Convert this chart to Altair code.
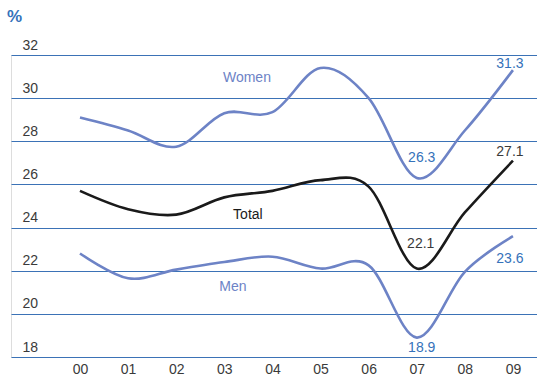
import altair as alt
import pandas as pd

# Share of the population, by year (2000-2009)
years = ["00", "01", "02", "03", "04", "05", "06", "07", "08", "09"]
women = [29.1, 28.5, 27.75, 29.3, 29.35, 31.4, 30.0, 26.3, 28.5, 31.3]
total = [25.7, 24.85, 24.6, 25.4, 25.7, 26.2, 25.9, 22.1, 24.7, 27.1]
men = [22.8, 21.65, 22.05, 22.4, 22.65, 22.1, 22.25, 18.9, 21.95, 23.6]

y_ticks = [18, 20, 22, 24, 26, 28, 30, 32]

BLUE_LINE = "#6d83c6"
BLUE_TEXT = "#3572ba"
GRID = "#3b72b6"
DARK = "#3a3a3a"
FONT = "Liberation Sans"

rows = []
for name, vals in [("Women", women), ("Total", total), ("Men", men)]:
    for i, (yr, v) in enumerate(zip(years, vals)):
        rows.append({"series": name, "idx": i, "year": yr, "value": v})
df = pd.DataFrame(rows)

x_scale = alt.Scale(domain=[-1.434, 9.5], nice=False, zero=False)
y_scale = alt.Scale(domain=[18, 32], nice=False, zero=False)

x_axis = alt.Axis(
    values=list(range(len(years))),
    labelExpr="datum.value < 10 ? '0' + datum.value : '' + datum.value",
    grid=False, domain=False, ticks=False, labelPadding=5,
    labelFont=FONT, labelFontSize=14, labelColor=DARK, title=None,
)
y_axis = alt.Axis(
    values=y_ticks, grid=True, gridColor=GRID, gridWidth=1.2,
    domain=False, ticks=False, labelAlign="left", labelPadding=-11,
    labelBaseline="alphabetic", labelOffset=-6,
    labelFont=FONT, labelFontSize=14, labelColor=DARK, title=None,
)

base = alt.Chart(df)

lines = base.mark_line(interpolate="cardinal", strokeWidth=2.6).encode(
    x=alt.X("idx:Q", scale=x_scale, axis=x_axis),
    y=alt.Y("value:Q", scale=y_scale, axis=y_axis),
    color=alt.Color(
        "series:N",
        scale=alt.Scale(domain=["Women", "Total", "Men"],
                        range=[BLUE_LINE, "#1a1a1a", BLUE_LINE]),
        legend=None,
    ),
    detail="series:N",
)

# Series names placed beside their lines
name_df = pd.DataFrame({
    "label": ["Women", "Total", "Men"],
    "idx": [3.47, 3.49, 3.18],
    "value": [30.93, 24.6, 21.26],
    "kind": ["blue", "dark", "blue"],
})
names = alt.Chart(name_df).mark_text(font=FONT, fontSize=14, baseline="middle").encode(
    x=alt.X("idx:Q", scale=x_scale),
    y=alt.Y("value:Q", scale=y_scale),
    text="label:N",
    color=alt.Color("kind:N", scale=alt.Scale(domain=["blue", "dark"],
                                              range=[BLUE_TEXT, DARK]), legend=None),
)

# Value callouts for the 2007 and 2009 points
def callout(series, i, dx, dy, color):
    vals = {"Women": women, "Total": total, "Men": men}[series]
    d = pd.DataFrame({"idx": [i], "value": [vals[i]], "txt": [f"{vals[i]:.1f}"]})
    return alt.Chart(d).mark_text(
        font=FONT, fontSize=14, baseline="middle", dx=dx, dy=dy, color=color
    ).encode(
        x=alt.X("idx:Q", scale=x_scale),
        y=alt.Y("value:Q", scale=y_scale),
        text="txt:N",
    )

callouts = [
    callout("Women", 9, -3, -6, BLUE_TEXT),
    callout("Women", 7, 5, -20, BLUE_TEXT),
    callout("Total", 9, -3, -9, DARK),
    callout("Total", 7, 4, -25, DARK),
    callout("Men", 9, -3, 23, BLUE_TEXT),
    callout("Men", 7, 5, 10, BLUE_TEXT),
]

chart = alt.layer(lines, names, *callouts).properties(
    width=526,
    height=302,
    autosize=alt.AutoSizeParams(type="none"),
    padding={"left": 11, "top": 55, "right": 0, "bottom": 24},
    title=alt.TitleParams(
        "%", anchor="start", dx=-4, offset=12, fontSize=17,
        fontWeight="bold", color=BLUE_TEXT, font=FONT,
    ),
).configure_view(stroke=None).configure(background="white")

chart.save("out.html", embed_options={"renderer": "svg", "actions": False})
